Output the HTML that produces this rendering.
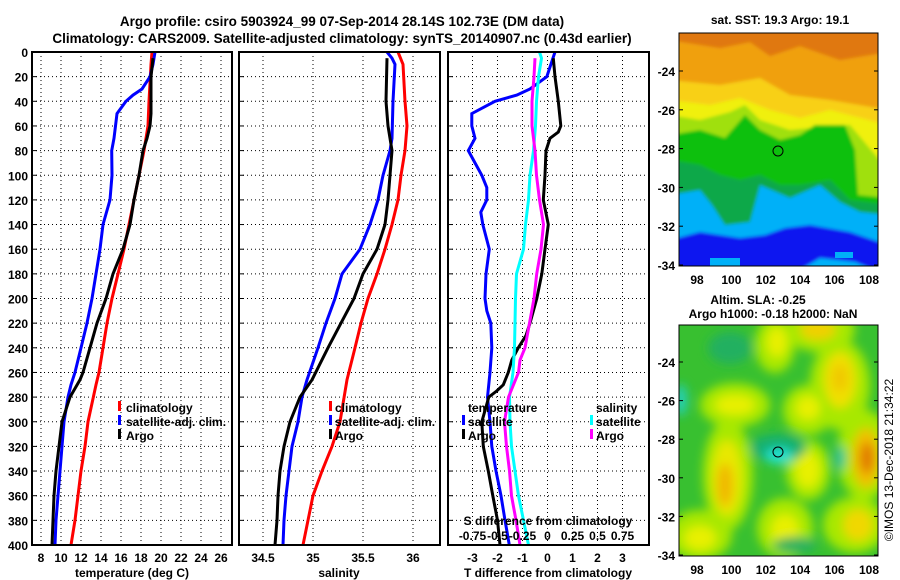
<!DOCTYPE html>
<html><head><meta charset="utf-8">
<style>
html,body{margin:0;padding:0;background:#fff;}
svg{display:block;font-family:"Liberation Sans",sans-serif;font-weight:bold;}
</style></head>
<body>
<svg id="fig" width="900" height="580" viewBox="0 0 900 580" xmlns="http://www.w3.org/2000/svg">
<defs>
<filter id="blur" x="-20%" y="-20%" width="140%" height="140%"><feGaussianBlur stdDeviation="5"/></filter>
<filter id="blur2" x="-20%" y="-20%" width="140%" height="140%"><feGaussianBlur stdDeviation="1.5"/></filter>
<clipPath id="cm1"><rect x="679" y="33" width="199" height="233"/></clipPath>
<clipPath id="cm2"><rect x="679" y="325" width="199" height="231"/></clipPath>
<clipPath id="cp1"><rect x="32" y="52" width="200" height="493"/></clipPath>
<clipPath id="cp2"><rect x="239" y="52" width="201" height="493"/></clipPath>
<clipPath id="cp3"><rect x="448" y="52" width="201" height="493"/></clipPath>
</defs>
<text x="342" y="26" text-anchor="middle" font-size="13.5">Argo profile: csiro 5903924_99 07-Sep-2014 28.14S 102.73E (DM data)</text>
<text x="342" y="43" text-anchor="middle" font-size="13.5">Climatology: CARS2009. Satellite-adjusted climatology: synTS_20140907.nc (0.43d earlier)</text>
<g id="grids"></g>
<g id="lines"></g>
<g id="axes"></g>

<!-- map 1 -->
<g clip-path="url(#cm1)">
<rect x="679" y="33" width="199" height="233" fill="#e07810"/>
<g filter="url(#blur2)">
<polygon fill="#f0a010" points="670,40 720,48 750,42 770,56 800,46 840,60 888,52 888,276 670,276"/>
<polygon fill="#f8d018" points="670,80 720,85 760,78 790,95 830,100 888,110 888,276 670,276"/>
<polygon fill="#f0f010" points="670,100 710,105 740,98 770,110 800,118 830,110 888,125 888,276 670,276"/>
<polygon fill="#a0e010" points="670,115 700,120 730,112 745,105 760,120 790,130 810,128 850,125 888,170 888,276 670,276"/>
<polygon fill="#10c010" points="670,135 700,130 725,138 745,115 760,130 780,140 800,135 815,125 845,125 855,150 858,195 888,198 888,276 670,276"/>
<polygon fill="#10a848" points="670,160 700,165 720,175 740,180 760,175 780,185 800,185 830,180 850,200 888,205 888,276 670,276"/>
<polygon fill="#00b0f8" points="670,195 700,190 712,205 725,225 750,222 760,185 790,198 820,185 840,202 860,212 888,215 888,276 670,276"/>
<polygon fill="#0818f0" points="670,240 700,232 740,238 765,235 785,228 810,225 850,232 888,245 888,276 855,262 820,258 790,276 670,276"/>
</g>
<rect x="710" y="258" width="30" height="8" fill="#00b0f8"/>
<rect x="835" y="252" width="18" height="6" fill="#00b0f8"/>
</g>
<rect x="679" y="33" width="199" height="233" fill="none" stroke="#000" stroke-width="1"/>
<circle cx="778" cy="151" r="5" fill="none" stroke="#000" stroke-width="1"/>
<text x="780" y="24" text-anchor="middle" font-size="12">sat. SST: 19.3 Argo: 19.1</text>

<!-- map 2 -->
<g clip-path="url(#cm2)">
<rect x="679" y="325" width="199" height="231" fill="#38c030"/>
<g filter="url(#blur)">
<ellipse cx="735" cy="405" rx="35" ry="22" fill="#a8e800"/>
<ellipse cx="728" cy="475" rx="25" ry="55" fill="#a8e800"/>
<ellipse cx="775" cy="345" rx="20" ry="28" fill="#a8e800"/>
<ellipse cx="820" cy="330" rx="35" ry="22" fill="#a8e800"/>
<ellipse cx="840" cy="385" rx="30" ry="45" fill="#a8e800"/>
<ellipse cx="808" cy="410" rx="25" ry="25" fill="#a8e800"/>
<ellipse cx="865" cy="455" rx="28" ry="45" fill="#a8e800"/>
<ellipse cx="808" cy="470" rx="22" ry="30" fill="#a8e800"/>
<ellipse cx="785" cy="528" rx="28" ry="30" fill="#a8e800"/>
<ellipse cx="700" cy="535" rx="32" ry="25" fill="#a8e800"/>
<ellipse cx="855" cy="525" rx="32" ry="28" fill="#a8e800"/>
<ellipse cx="735" cy="405" rx="20" ry="10" fill="#e8f000"/>
<ellipse cx="727" cy="478" rx="15" ry="38" fill="#e8e800"/>
<ellipse cx="725" cy="485" rx="8" ry="22" fill="#f0b800"/>
<ellipse cx="777" cy="342" rx="10" ry="15" fill="#e8f000"/>
<ellipse cx="818" cy="330" rx="18" ry="10" fill="#f0d000"/>
<ellipse cx="840" cy="380" rx="16" ry="28" fill="#f0e000"/>
<ellipse cx="840" cy="378" rx="8" ry="14" fill="#f0c800"/>
<ellipse cx="808" cy="408" rx="12" ry="12" fill="#e8f000"/>
<ellipse cx="866" cy="458" rx="14" ry="30" fill="#f0c000"/>
<ellipse cx="867" cy="458" rx="7" ry="16" fill="#e07800"/>
<ellipse cx="808" cy="470" rx="12" ry="18" fill="#e8f000"/>
<ellipse cx="785" cy="530" rx="14" ry="16" fill="#e8f000"/>
<ellipse cx="700" cy="538" rx="16" ry="12" fill="#e8f000"/>
<ellipse cx="858" cy="525" rx="15" ry="16" fill="#f0d800"/>
<ellipse cx="778" cy="448" rx="28" ry="14" fill="#18b070"/>
<ellipse cx="779" cy="456" rx="14" ry="8" fill="#20e0d0"/>
<ellipse cx="730" cy="348" rx="22" ry="16" fill="#20b060"/>
<ellipse cx="681" cy="400" rx="6" ry="16" fill="#20d0c0"/>
<ellipse cx="840" cy="458" rx="5" ry="12" fill="#20c0a0"/>
<ellipse cx="795" cy="545" rx="22" ry="8" fill="#20b060"/>
</g>
</g>
<rect x="679" y="325" width="199" height="231" fill="none" stroke="#000" stroke-width="1"/>
<circle cx="778" cy="452" r="5" fill="none" stroke="#000" stroke-width="1"/>
<text x="758" y="304" text-anchor="middle" font-size="12">Altim. SLA: -0.25</text>
<text x="773" y="318" text-anchor="middle" font-size="12">Argo h1000: -0.18 h2000: NaN</text>
<text transform="translate(893,460) rotate(-90)" text-anchor="middle" font-size="12" font-weight="normal">©IMOS 13-Dec-2018 21:34:22</text>
<g id="mapaxes"></g>

<!-- legends -->
<g font-size="12">
<rect x="118" y="401" width="3" height="10" fill="#f00"/><text x="126" y="412">climatology</text>
<rect x="118" y="415" width="3" height="10" fill="#00f"/><text x="126" y="426">satellite-adj. clim.</text>
<rect x="118" y="429" width="3" height="10" fill="#000"/><text x="126" y="440">Argo</text>
</g>
<g font-size="12">
<rect x="329" y="401" width="3" height="10" fill="#f00"/><text x="335" y="412">climatology</text>
<rect x="329" y="415" width="3" height="10" fill="#00f"/><text x="335" y="426">satellite-adj. clim.</text>
<rect x="329" y="429" width="3" height="10" fill="#000"/><text x="335" y="440">Argo</text>
</g>
<g font-size="12">
<text x="468" y="412">temperature</text>
<rect x="462" y="415" width="3" height="10" fill="#00f"/><text x="468" y="426">satellite</text>
<rect x="462" y="429" width="3" height="10" fill="#000"/><text x="468" y="440">Argo</text>
<text x="596" y="412">salinity</text>
<rect x="590" y="415" width="3" height="10" fill="#0ff"/><text x="596" y="426">satellite</text>
<rect x="590" y="429" width="3" height="10" fill="#f0f"/><text x="596" y="440">Argo</text>
</g>
</svg>
<script>
// ---- data ----
const tempDepthClim=[0,10,40,60,80,100,120,160,180,200,220,240,260,270,300,320,340,360,380,400];
const tempClim=[19.1,19.0,18.8,18.7,18.3,17.8,17.3,16.3,15.7,15.1,14.6,14.2,13.8,13.5,12.7,12.4,12.0,11.7,11.4,11.0];
const tempDepthSat=[0,10,20,30,35,40,50,70,80,100,120,140,160,180,200,220,240,260,270,280,300,320,340,360,380,400];
const tempSat=[19.4,19.2,18.9,18.1,17.2,16.5,15.6,15.3,15.07,15.1,14.9,14.2,13.9,13.5,13.1,12.6,12.0,11.4,11.0,10.7,10.3,10.1,9.9,9.7,9.5,9.4];
const tempDepthArgo=[5,20,50,60,70,80,100,120,140,160,180,200,220,240,260,266,280,300,320,340,360,380,400];
const tempArgo=[19.2,19.0,19.0,18.9,18.6,18.2,17.8,17.3,16.9,16.2,15.2,14.5,13.6,12.9,12.2,11.9,10.9,10.1,9.8,9.5,9.3,9.2,9.1];

const salDepthClim=[0,10,40,60,80,100,120,140,160,180,200,220,240,266,300,320,340,360,380,400];
const salClim=[35.85,35.90,35.92,35.94,35.92,35.88,35.85,35.79,35.72,35.64,35.55,35.48,35.42,35.34,35.27,35.19,35.09,35.0,34.95,34.90];
const salDepthSat=[0,5,10,40,70,80,100,120,140,160,180,200,220,240,266,280,300,320,340,360,380,400];
const salSat=[35.74,35.79,35.82,35.80,35.79,35.77,35.70,35.65,35.57,35.47,35.29,35.22,35.13,35.05,34.94,34.89,34.85,34.79,34.76,34.73,34.71,34.70];
const salDepthArgo=[5,40,60,80,120,140,160,180,200,220,240,266,280,300,320,340,360,380,400];
const salArgo=[35.74,35.73,35.75,35.79,35.75,35.72,35.64,35.50,35.41,35.28,35.15,34.99,34.87,34.77,34.71,34.67,34.65,34.64,34.62];

const dTDepthSat=[0,20,30,35,40,50,60,70,80,90,100,110,120,130,140,160,180,200,210,220,240,260,280,300,320,340,360,380,400];
const dTSat=[0.3,-0.03,-0.7,-1.23,-2.1,-3.03,-3.03,-2.9,-3.17,-2.9,-2.63,-2.43,-2.43,-2.67,-2.59,-2.33,-2.46,-2.5,-2.43,-2.27,-2.23,-2.3,-2.4,-2.3,-2.23,-2.06,-1.86,-1.7,-1.53];
const dTDepthArgo=[5,20,40,60,65,70,80,100,120,140,160,180,200,220,230,240,250,260,270,275,280,300,320,340,360,380,400];
const dTArgo=[0.23,0.3,0.43,0.53,0.43,0.1,-0.06,-0.1,-0.17,0.03,-0.1,-0.23,-0.43,-0.7,-0.86,-1.17,-1.43,-1.57,-1.77,-2.03,-2.35,-2.63,-2.57,-2.37,-2.19,-2.0,-1.9];
const dSDepthSat=[0,5,20,40,60,80,100,120,140,160,180,200,240,260,280,300,320,340,360,380,400];
const dSSat=[-0.08,-0.06,-0.09,-0.11,-0.12,-0.14,-0.175,-0.19,-0.22,-0.24,-0.31,-0.32,-0.33,-0.345,-0.38,-0.375,-0.36,-0.325,-0.29,-0.24,-0.19];
const dSDepthArgo=[5,20,40,60,80,100,120,140,160,180,200,220,240,250,260,280,300,320,340,360,380,400];
const dSArgo=[-0.125,-0.135,-0.155,-0.155,-0.125,-0.11,-0.08,-0.04,-0.065,-0.108,-0.135,-0.18,-0.225,-0.275,-0.29,-0.39,-0.43,-0.41,-0.38,-0.36,-0.315,-0.275];

const depthTicks=[0,20,40,60,80,100,120,140,160,180,200,220,240,260,280,300,320,340,360,380,400];
const tempTicks=[8,10,12,14,16,18,20,22,24,26];
const salTicks=[34.5,35,35.5,36];
const dTTicks=[-3,-2,-1,0,1,2,3];
const dSTickLabels=["-0.75","-0.5","-0.25","0","0.25","0.5","0.75"];
const dSTicks=[-0.75,-0.5,-0.25,0,0.25,0.5,0.75];
const lonTicks=[98,100,102,104,106,108];
const latTicks=[-24,-26,-28,-30,-32,-34];

// ---- scales ----
const Y=d=>52+d*1.2325;
const XT=t=>32+(t-7.1)*10;
const XS=s=>239+(s-34.26)*100;
const XdT=t=>547.5+t*25;
const XdS=s=>547.5+s*100;
const LON=l=>697+(l-98)*17.2;
const LAT1=l=>71+(-24-l)*19.4;
const LAT2=l=>362+(-24-l)*19.3;

const NS='http://www.w3.org/2000/svg';
function mk(tag,attrs,parent,txt){const e=document.createElementNS(NS,tag);for(const k in attrs)e.setAttribute(k,attrs[k]);if(txt!==undefined)e.textContent=txt;parent.appendChild(e);return e;}
const grids=document.getElementById('grids'),lines=document.getElementById('lines'),axes=document.getElementById('axes'),mapaxes=document.getElementById('mapaxes');

const panels=[{x0:32,x1:232,name:'temperature'},{x0:239,x1:440,name:'salinity'},{x0:448,x1:649,name:'difference'}];
const dash={stroke:'#000','stroke-width':1,'stroke-dasharray':'1,3'};
panels.forEach((p,i)=>{
  depthTicks.forEach(d=>{
    const g=mk('line',Object.assign({x1:p.x0,x2:p.x1,y1:Y(d),y2:Y(d)},dash),grids);
    
    
    const t=mk('line',{x1:p.x0,x2:p.x0+5,y1:Y(d),y2:Y(d),stroke:'#000'},axes);
    
    
  });
});
function vgrid(ticks,X,p){ticks.forEach(v=>{const g=mk('line',Object.assign({x1:X(v),x2:X(v),y1:52,y2:545},dash),grids);
  
  });}
vgrid(tempTicks,XT,'temperature');vgrid(salTicks,XS,'salinity');vgrid(dTTicks,XdT,'difference');

depthTicks.forEach(d=>{
  const t=mk('text',{x:28,y:Y(d)+5,'text-anchor':'end','font-size':12},axes,String(d));
  
  
});
tempTicks.forEach(v=>{const t=mk('text',{x:XT(v),y:562,'text-anchor':'middle','font-size':12},axes,String(v));
  
  });
salTicks.forEach(v=>{const t=mk('text',{x:XS(v),y:562,'text-anchor':'middle','font-size':12},axes,String(v));
  
  });
dTTicks.forEach(v=>{const t=mk('text',{x:XdT(v),y:562,'text-anchor':'middle','font-size':12},axes,String(v));
  
  });
dSTicks.forEach((v,i)=>{const t=mk('text',{x:XdS(v),y:540,'text-anchor':'middle','font-size':12},axes,dSTickLabels[i]);
  
  });
[['temperature (deg C)',132,'temperature-axis-title'],['salinity',339,'salinity-axis-title'],['T difference from climatology',548,'t-difference-axis-title']].forEach(a=>{
  const t=mk('text',{x:a[1],y:577,'text-anchor':'middle','font-size':12},axes,a[0]);
  
  });
{const t=mk('text',{x:548,y:525,'text-anchor':'middle','font-size':12},axes,'S difference from climatology');
  
  }

function series(depths,vals,X,color,clip,name){
  const pts=depths.map((d,i)=>X(vals[i]).toFixed(1)+','+Y(d).toFixed(1)).join(' ');
  const l=mk('polyline',{points:pts,fill:'none',stroke:color,'stroke-width':3,'clip-path':'url(#'+clip+')'},lines);
  
  
}
series(tempDepthClim,tempClim,XT,'#f00','cp1','temperature-climatology-line');
series(tempDepthSat,tempSat,XT,'#00f','cp1','temperature-satellite-line');
series(tempDepthArgo,tempArgo,XT,'#000','cp1','temperature-argo-line');
series(salDepthClim,salClim,XS,'#f00','cp2','salinity-climatology-line');
series(salDepthSat,salSat,XS,'#00f','cp2','salinity-satellite-line');
series(salDepthArgo,salArgo,XS,'#000','cp2','salinity-argo-line');
series(dTDepthSat,dTSat,XdT,'#00f','cp3','t-diff-satellite-line');
series(dTDepthArgo,dTArgo,XdT,'#000','cp3','t-diff-argo-line');
series(dSDepthSat,dSSat,XdS,'#0ff','cp3','s-diff-satellite-line');
series(dSDepthArgo,dSArgo,XdS,'#f0f','cp3','s-diff-argo-line');

panels.forEach(p=>{const r=mk('rect',{x:p.x0,y:52,width:p.x1-p.x0,height:493,fill:'none',stroke:'#000','stroke-width':2},axes);
  
  });

// map axes
[[266,LAT1,'sst'],[556,LAT2,'sla']].forEach(m=>{
  lonTicks.forEach(v=>{const t=mk('text',{x:LON(v),y:m[0]+18,'text-anchor':'middle','font-size':12},mapaxes,String(v));
    
    });
  latTicks.forEach(v=>{const t=mk('text',{x:675,y:m[1](v)+5,'text-anchor':'end','font-size':12},mapaxes,String(v));
    
    
    mk('line',{x1:679,x2:683,y1:m[1](v),y2:m[1](v),stroke:'#000'},mapaxes);
    mk('line',{x1:874,x2:878,y1:m[1](v),y2:m[1](v),stroke:'#000'},mapaxes);});
});
</script>
</body></html>
